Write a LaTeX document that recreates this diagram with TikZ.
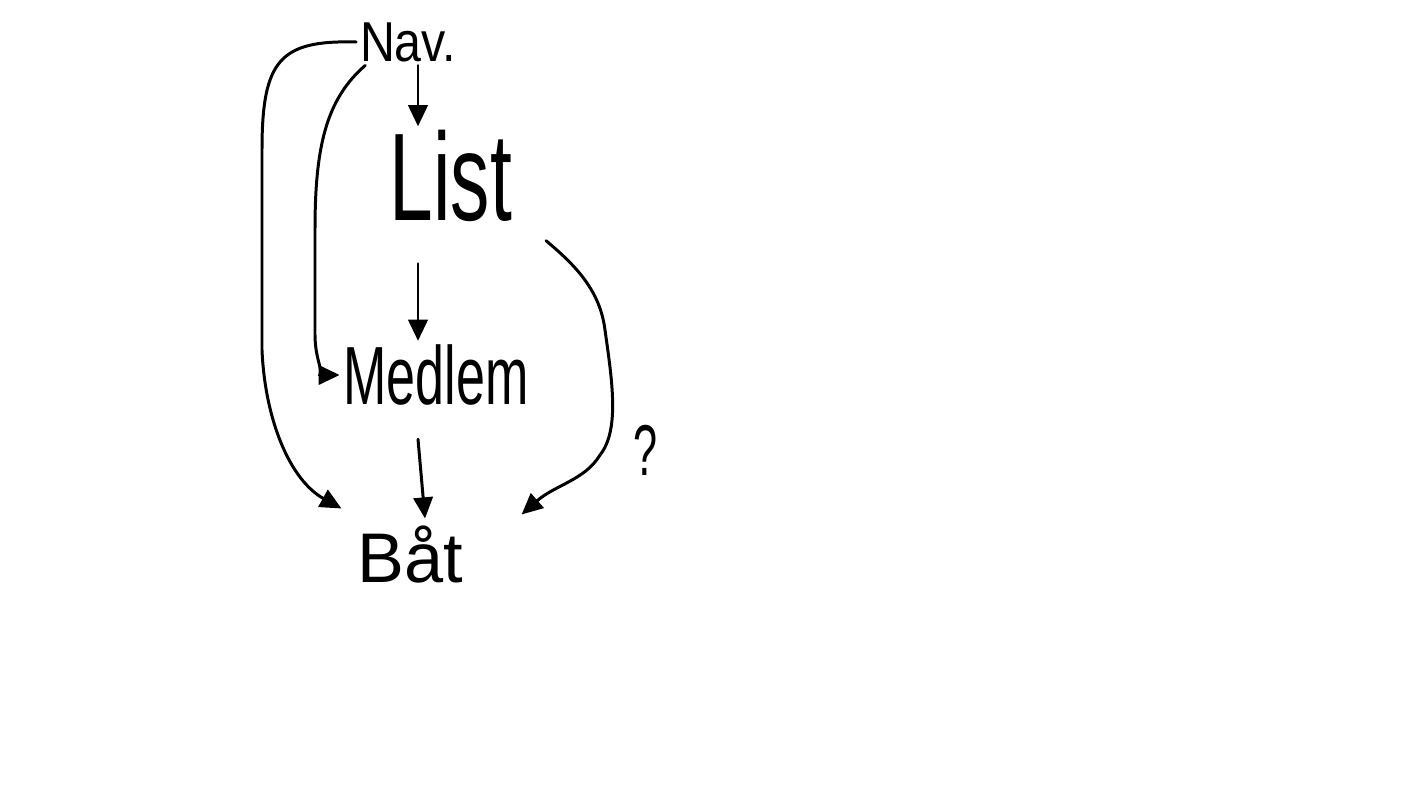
\documentclass[tikz,border=0pt]{standalone}
\usepackage{fontspec}
\setmainfont{Liberation Sans}
\usetikzlibrary{arrows.meta,calc}
\tikzset{
  arr/.style={line width=1.7pt, line cap=round, -{Triangle[length=12pt,width=11pt]}},
  lbl/.style={inner sep=2pt},
}
\newcommand{\narrow}[2]{\scalebox{#1}[1]{#2}}
\begin{document}
\begin{tikzpicture}[x=0.02cm,y=-0.02cm]
  \useasboundingbox (0,0) rectangle (1411,804);
  % the four screens
  \node[lbl, font=\fontsize{32}{36}\selectfont] (nav) at (408,42) {\narrow{0.86}{Nav.}};
  \node[lbl, font=\fontsize{71}{80}\selectfont] (list) at (451,176) {\narrow{0.63}{List}};
  \node[lbl, font=\fontsize{47}{54}\selectfont] (medlem) at (436,375) {\narrow{0.63}{Medlem}};
  \node[lbl, font=\fontsize{40}{46}\selectfont] (bat) at (410,555) {Båt};
  \node[lbl, font=\fontsize{41}{46}\selectfont] (q) at (646,450) {\narrow{0.6}{?}};
  % straight arrows
  \draw[arr] ($(nav.south)+(10,0)$) -- ($(list.north)+(-33,0)$);
  \draw[arr] ($(list.south)+(-33,38)$) -- ($(medlem.north)+(-18,0)$);
  \draw[arr] ($(medlem.south)+(-18,30)$) -- ($(bat.north)+(15,-4)$);
  % curved arrows
  \draw[arr] ($(nav.south west)+(9,0)$) .. controls (325,100) and (315,150) .. (315,230)
    -- (315,335) .. controls (315,360) and (325,375) .. (medlem.west);
  \draw[arr] (nav.west) .. controls (280,40) and (262,60) .. (262,150)
    -- (262,350) .. controls (265,420) and (290,480) .. ($(bat.north west)+(-12,-14)$);
  \draw[arr] ($(list.south east)+(30,15)$) .. controls (575,265) and (600,290) .. (605,330)
    .. controls (612,380) and (620,430) .. (600,455)
    .. controls (585,480) and (555,485) .. ($(bat.north east)+(55,-8)$);
\end{tikzpicture}
\end{document}
